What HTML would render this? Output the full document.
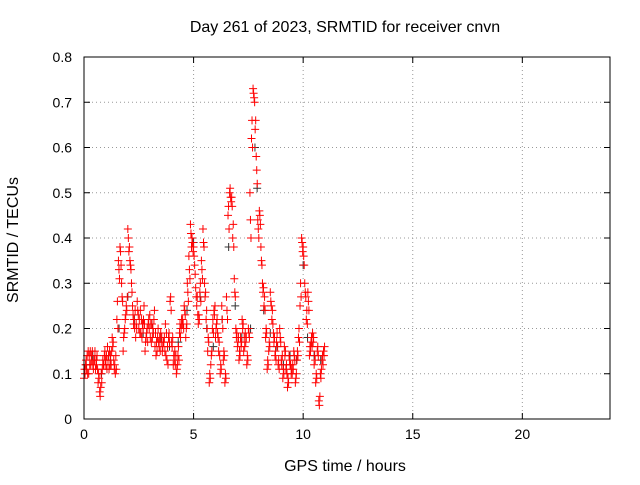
<!DOCTYPE html>
<html><head><meta charset="utf-8"><style>
body{margin:0;background:#fff;font-family:"Liberation Sans",sans-serif;}
svg text{font-family:"Liberation Sans",sans-serif;font-size:14px;fill:#000;}
svg text.big{font-size:16px;}
</style></head><body>
<svg id="chart" width="640" height="480">
<text class="big" x="345" y="32" text-anchor="middle">Day 261 of 2023, SRMTID for receiver cnvn</text>
<text class="big" x="345" y="471" text-anchor="middle">GPS time / hours</text>
<text class="big" transform="translate(18,240) rotate(-90)" text-anchor="middle">SRMTID / TECUs</text>
<g id="grid"></g><g id="axes"></g><g id="marks"></g>
<rect x="84" y="57" width="526" height="362" fill="none" stroke="#000"/>
</svg>
<script>
const xTicks=[0,5,10,15,20];
const yTicks=[0,0.1,0.2,0.3,0.4,0.5,0.6,0.7,0.8];
const yTickLabels=["0","0.1","0.2","0.3","0.4","0.5","0.6","0.7","0.8"];
const redValues=[0.09,0.12,0.14,0.10,0.15,0.13,0.11,
0.15,0.12,0.08,0.06,0.10,0.13,0.14,
0.12,0.16,0.11,0.14,0.18,0.13,0.10,
0.22,0.35,0.38,0.30,0.15,0.20,0.25,
0.42,0.38,0.33,0.25,0.22,0.18,0.26,
0.20,0.24,0.18,0.22,0.15,0.19,0.21,
0.23,0.17,0.20,0.24,0.14,0.18,0.16,
0.19,0.15,0.17,0.21,0.13,0.18,0.26,
0.17,0.12,0.15,0.10,0.14,0.19,0.20,
0.22,0.25,0.18,0.30,0.36,0.43,0.40,
0.38,0.32,0.25,0.21,0.28,0.35,0.42,
0.30,0.22,0.15,0.08,0.12,0.20,0.24,
0.18,0.22,0.15,0.10,0.25,0.13,0.08,
0.27,0.45,0.50,0.48,0.40,0.31,0.20,
0.16,0.13,0.18,0.22,0.15,0.19,0.12,
0.20,0.50,0.62,0.73,0.70,0.58,0.44,
0.46,0.38,0.30,0.25,0.18,0.11,0.15,
0.28,0.22,0.19,0.14,0.17,0.12,0.20,
0.13,0.09,0.16,0.11,0.07,0.14,0.12,
0.10,0.15,0.08,0.13,0.18,0.25,0.40,
0.38,0.30,0.22,0.28,0.14,0.17,0.19,
0.12,0.08,0.15,0.04,0.10,0.13,0.15];
const redValues2=[0.11,0.13,0.10,0.14,0.12,0.15,0.13,
0.11,0.14,0.10,0.05,0.08,0.12,0.15,
0.14,0.13,0.15,0.12,0.16,0.11,0.14,
0.26,0.33,0.37,0.27,0.18,0.22,0.24,
0.40,0.35,0.30,0.23,0.20,0.21,0.24,
0.22,0.19,0.21,0.25,0.17,0.20,0.22,
0.18,0.21,0.19,0.16,0.17,0.20,0.18,
0.17,0.16,0.18,0.14,0.16,0.19,0.27,
0.16,0.14,0.12,0.11,0.16,0.21,0.22,
0.21,0.24,0.20,0.28,0.33,0.41,0.39,
0.36,0.29,0.27,0.23,0.30,0.33,0.39,
0.27,0.24,0.18,0.10,0.14,0.22,0.23,
0.20,0.19,0.17,0.12,0.22,0.15,0.10,
0.24,0.47,0.51,0.49,0.43,0.28,0.18,
0.17,0.15,0.16,0.20,0.18,0.17,0.14,
0.19,0.44,0.66,0.72,0.64,0.55,0.42,
0.45,0.35,0.28,0.27,0.20,0.13,0.17,
0.26,0.24,0.17,0.15,0.19,0.13,0.18,
0.12,0.11,0.14,0.12,0.09,0.13,0.10,
0.12,0.14,0.09,0.15,0.20,0.30,0.39,
0.36,0.28,0.24,0.26,0.16,0.18,0.17,
0.14,0.10,0.16,0.03,0.09,0.14,0.14];
const redValues3=[0.10,0.11,0.15,0.12,0.14,0.12,0.13,
0.13,0.11,0.09,0.07,0.11,0.12,0.13,
0.11,0.14,0.12,0.15,0.17,0.12,0.11,
0.20,0.31,0.34,0.26,0.19,0.23,0.27,
0.37,0.34,0.28,0.21,0.24,0.20,0.23,
0.19,0.22,0.20,0.21,0.18,0.17,0.20,
0.21,0.18,0.22,0.19,0.15,0.17,0.15,
0.18,0.17,0.15,0.19,0.12,0.17,0.24,
0.18,0.13,0.14,0.12,0.13,0.18,0.21,
0.20,0.23,0.21,0.26,0.31,0.38,0.37,
0.34,0.27,0.23,0.22,0.26,0.31,0.38,
0.28,0.20,0.17,0.09,0.15,0.19,0.25,
0.21,0.18,0.14,0.11,0.20,0.14,0.09,
0.22,0.42,0.49,0.47,0.38,0.27,0.19,
0.18,0.14,0.17,0.21,0.16,0.18,0.13,
0.18,0.40,0.60,0.71,0.66,0.52,0.40,
0.43,0.34,0.29,0.24,0.19,0.12,0.16,
0.25,0.21,0.18,0.13,0.16,0.11,0.17,
0.14,0.10,0.15,0.10,0.08,0.12,0.11,
0.11,0.13,0.10,0.14,0.17,0.27,0.37,
0.34,0.27,0.21,0.24,0.15,0.16,0.18,
0.13,0.09,0.14,0.05,0.11,0.12,0.16];
const blackTimes=[0.1,0.4,0.8,1.2,1.6,2.0,2.3,2.7,3.1,3.5,3.9,4.3,4.7,5.0,5.3,5.6,5.9,6.3,6.6,6.9,7.2,7.6,7.8,7.9,8.2,8.5,8.8,9.1,9.4,9.7,10.0,10.2,10.5,10.8];
const blackValues=[0.12,0.14,0.10,0.13,0.20,0.27,0.22,0.19,0.21,0.18,0.16,0.17,0.24,0.39,0.27,0.20,0.16,0.22,0.38,0.25,0.18,0.20,0.60,0.51,0.24,0.19,0.16,0.12,0.14,0.13,0.34,0.18,0.14,0.13];
const X0=84,X1=610,Y0=419,Y1=57;
function xs(v){return X0+(v/24)*(X1-X0);}
function ys(v){return Y0-(v/0.8)*(Y0-Y1);}
const NS="http://www.w3.org/2000/svg";
function mk(tag,attrs,parent){const e=document.createElementNS(NS,tag);for(const k in attrs)e.setAttribute(k,attrs[k]);document.getElementById(parent).appendChild(e);return e;}
xTicks.forEach(t=>{const x=xs(t);
 if(t>0){const g=mk('line',{x1:x,x2:x,y1:Y0,y2:Y1,stroke:'#999','stroke-dasharray':'1,3'},'grid');
 
 }
 const tk=mk('text',{x:x,y:Y0+20,'text-anchor':'middle'},'axes');tk.textContent=t;
 
 
 mk('line',{x1:x,x2:x,y1:Y0,y2:Y0-6,stroke:'#000'},'axes');mk('line',{x1:x,x2:x,y1:Y1,y2:Y1+6,stroke:'#000'},'axes');});
yTicks.forEach((t,i)=>{const y=ys(t);
 if(t>0&&t<0.8){const g=mk('line',{x1:X0,x2:X1,y1:y,y2:y,stroke:'#999','stroke-dasharray':'1,3'},'grid');
 
 }
 const tk=mk('text',{x:X0-12,y:y+5,'text-anchor':'end'},'axes');tk.textContent=yTickLabels[i];
 
 
 mk('line',{x1:X0,x2:X0+6,y1:y,y2:y,stroke:'#000'},'axes');mk('line',{x1:X1,x2:X1-6,y1:y,y2:y,stroke:'#000'},'axes');});
function plus(t,v,c,name){const x=xs(t),y=ys(v);
 const p=mk('path',{d:`M${x-4},${y}H${x+4}M${x},${y-4}V${y+4}`,stroke:c,'stroke-width':1,fill:'none'},'marks');
 
 }
blackValues.forEach((v,i)=>plus(blackTimes[i],v,'#333','black-point'));
const step=0.5/7;
redValues.forEach((v,i)=>plus(i*step,v,'#f00','red-point'));
redValues2.forEach((v,i)=>plus(i*step+step/3,v,'#f00','red-point'));
redValues3.forEach((v,i)=>plus(i*step+2*step/3,v,'#f00','red-point'));
</script>
</body></html>
